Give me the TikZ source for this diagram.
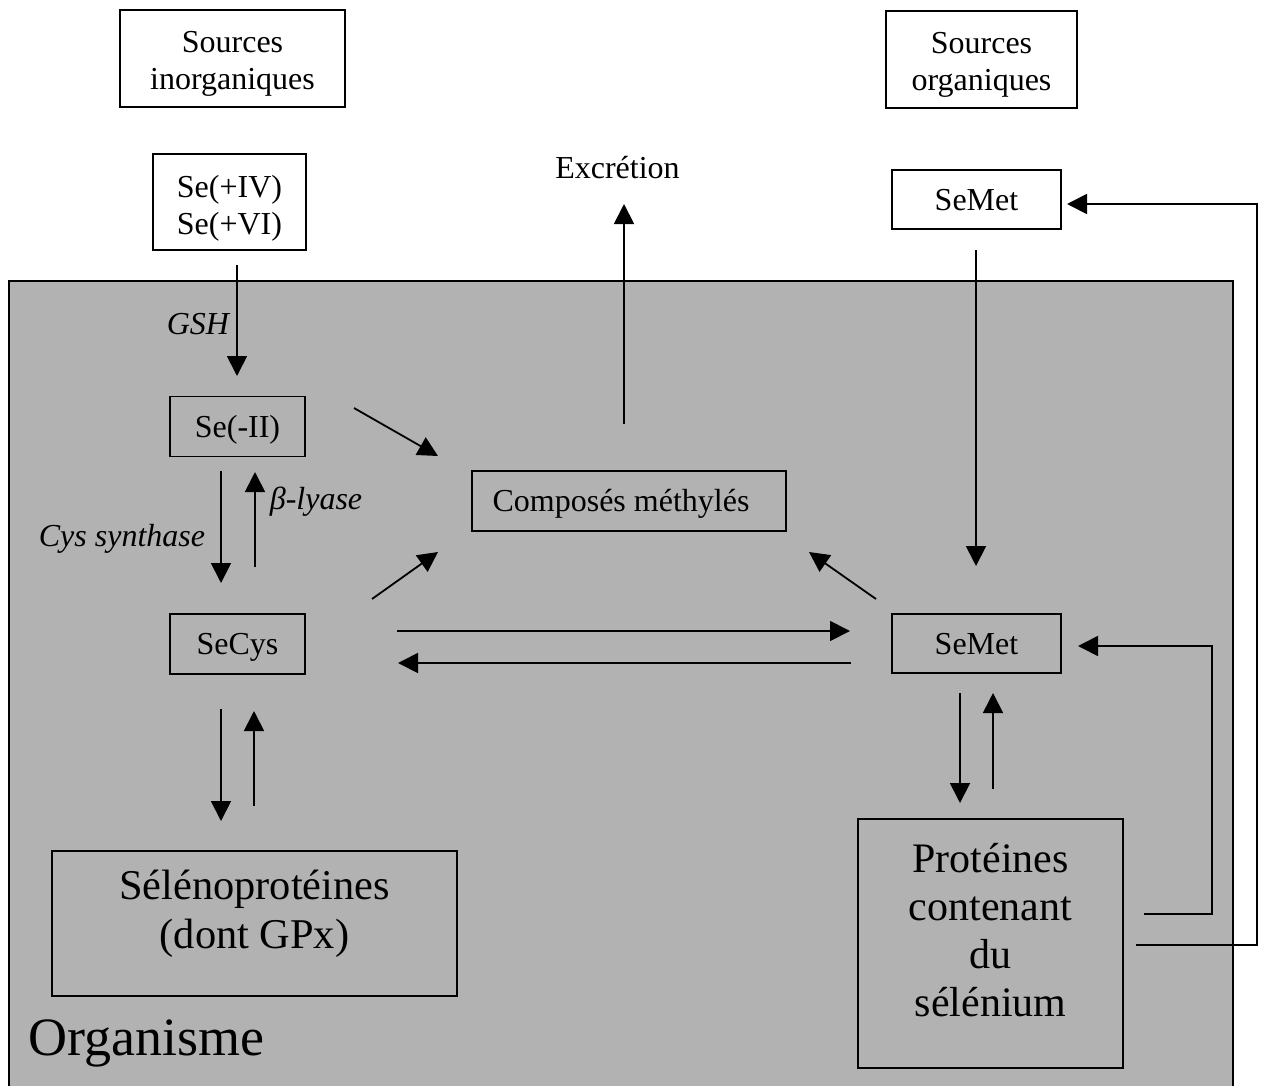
\documentclass[tikz,border=0pt]{standalone}
\usepackage{fontspec}
\setmainfont{Liberation Serif}
\usetikzlibrary{arrows.meta}
\definecolor{orggray}{RGB}{178,178,178}
\newcommand{\toprule}[1]{\rule{0pt}{#1}}
\newcommand{\botrule}{\rule[-4pt]{0pt}{4pt}}
\tikzset{
  box/.style={draw=black, line width=0.8pt, inner sep=0pt, align=center,
    font=\fontsize{16}{18.5}\selectfont},
  onebox/.style={box, text height=13pt, text depth=2.4pt},
  lbl/.style={inner sep=0pt, align=center, font=\fontsize{16}{18.5}\selectfont},
  ilbl/.style={inner sep=0pt, font=\fontsize{16}{18.5}\selectfont\itshape},
  arr/.style={line width=0.9pt, -{Triangle[length=10pt,width=10pt]}},
  ln/.style={line width=0.9pt}
}
\begin{document}
\begin{tikzpicture}[x=0.5pt,y=-0.5pt]
\useasboundingbox (0,0) rectangle (1261,1086);
% organism area
\fill[orggray] (9,281) rectangle (1233,1086);
\draw[line width=1pt] (9,1086) -- (9,281) -- (1233,281) -- (1233,1086);

% nodes outside
\node[box, minimum width=112.5pt, minimum height=48.5pt] (srcinorg) at (232.5,58.5) {\toprule{16.6pt}Sources\\inorganiques\botrule};
\node[box, minimum width=76.5pt, minimum height=48pt] (seiv) at (229.5,202) {\toprule{17.6pt}Se(+IV)\\Se(+VI)\botrule};
\node[box, minimum width=95.5pt, minimum height=48.5pt] (srcorg) at (981.5,59.5) {\toprule{16.6pt}Sources\\organiques\botrule};
\node[onebox, minimum width=84.5pt, minimum height=29.5pt] (semettop) at (976.5,199.5) {SeMet};
\node[lbl] (excr) at (617.5,168) {Excrétion};

% nodes inside
\node[onebox, minimum width=67.5pt, minimum height=30pt] (se2) at (237.5,426.5) {Se(-II)};
\node[onebox, minimum width=67.5pt, minimum height=30pt] (secys) at (237.5,644) {SeCys};
\node[onebox, minimum width=157pt, minimum height=30pt] (comp) at (629,501) {Composés méthylés\hspace*{8pt}};
\node[onebox, minimum width=84.5pt, minimum height=29.5pt] (semet) at (976.5,643.5) {SeMet};
\node[box, minimum width=132.5pt, minimum height=124.5pt] (prot) at (990.5,943.5) {};
\node[lbl, font=\fontsize{21}{24}\selectfont] (prottxt) at (990.5,930) {Protéines\\contenant\\du\\sélénium};
\node[box, minimum width=202.5pt, minimum height=72.5pt] (selpro) at (254.5,923.5) {};
\node[lbl, font=\fontsize{21.2}{24.5}\selectfont] (selprotxt) at (254.5,914) {Sélénoprotéines\\(dont GPx)};
\node[inner sep=0pt, anchor=base west, font=\fontsize{27}{30}\selectfont] (orgtxt) at (28,1055) {Organisme};

% labels
\node[ilbl] (gsh) at (198,324) {GSH};
\node[ilbl] (cys) at (122,539) {Cys synthase};
\node[ilbl] (blyase) at (316,502) {β-lyase};

% coordinates
\coordinate (a1s) at (237,265); \coordinate (a1e) at (237,376);
\coordinate (a2s) at (354,408); \coordinate (a2e) at (438,456);
\coordinate (a3s) at (221,471); \coordinate (a3e) at (221,583);
\coordinate (a4s) at (255,567); \coordinate (a4e) at (255,472);
\coordinate (a5s) at (372,599); \coordinate (a5e) at (438,552);
\coordinate (a6s) at (624,424); \coordinate (a6e) at (624,204);
\coordinate (a7s) at (397,631); \coordinate (a7e) at (850,631);
\coordinate (a8s) at (851,663); \coordinate (a8e) at (398,663);
\coordinate (a9s) at (876,599); \coordinate (a9e) at (809,552);
\coordinate (a10s) at (976,250); \coordinate (a10e) at (976,566);
\coordinate (a11s) at (960,693); \coordinate (a11e) at (960,803);
\coordinate (a12s) at (993,789); \coordinate (a12e) at (993,693);
\coordinate (a13s) at (1144,914); \coordinate (a13e) at (1078,646);
\coordinate (a14s) at (1136,945); \coordinate (a14e) at (1067,204);
\coordinate (a15s) at (221,709); \coordinate (a15e) at (221,821);
\coordinate (a16s) at (254,806); \coordinate (a16e) at (254,711);

% connectors
\draw[arr] (a1s) -- (a1e);
\draw[arr] (a2s) -- (a2e);
\draw[arr] (a3s) -- (a3e);
\draw[arr] (a4s) -- (a4e);
\draw[arr] (a5s) -- (a5e);
\draw[arr] (a6s) -- (a6e);
\draw[arr] (a7s) -- (a7e);
\draw[arr] (a8s) -- (a8e);
\draw[arr] (a9s) -- (a9e);
\draw[arr] (a10s) -- (a10e);
\draw[arr] (a11s) -- (a11e);
\draw[arr] (a12s) -- (a12e);
\draw[arr] (a13s) -- (1212,914) -- (1212,646) -- (a13e);
\draw[arr] (a14s) -- (1257,945) -- (1257,204) -- (a14e);
\draw[arr] (a15s) -- (a15e);
\draw[arr] (a16s) -- (a16e);
\end{tikzpicture}
\end{document}
